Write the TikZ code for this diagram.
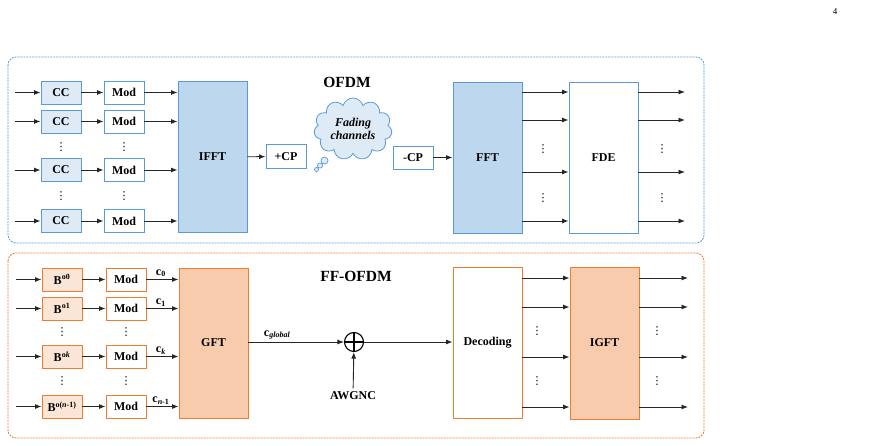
\documentclass[tikz,border=0pt]{standalone}
\usepackage{fontspec}
\setmainfont{Liberation Serif}
\newfontfamily\dotsfont{DejaVu Sans}
\usepackage{tikz}
\usetikzlibrary{positioning,arrows.meta,shapes.symbols}

\definecolor{ofdmfill}{HTML}{BDD7EE}
\definecolor{ofdmline}{HTML}{5B9BD5}
\definecolor{ccfill}{HTML}{DEEBF7}
\definecolor{fffill}{HTML}{F8CBAD}
\definecolor{ffline}{HTML}{ED7D31}
\definecolor{bfill}{HTML}{FBE5D6}

\begin{document}
\begin{tikzpicture}[x=1pt, y=-1pt, >={Latex[length=6.5pt,width=5pt]}, every node/.style={font=\fontsize{12}{14}\selectfont\bfseries},
    smallbox/.style={draw, line width=0.9pt, minimum width=40pt, minimum height=23pt, inner sep=0pt},
    bigbox/.style={draw, line width=0.9pt, minimum width=69pt, minimum height=151pt, inner sep=0pt},
    dotcol/.style={inner sep=0pt, font=\dotsfont\fontsize{11}{12}\selectfont},
    sig/.style={->, line width=0.9pt, draw=black!85}]
  \useasboundingbox (0,0) rectangle (874,446);
  \node[font=\small] (page) at (835,12) {4};

  % OFDM part
  \draw[ofdmline, line width=0.8pt, dash pattern=on 2pt off 1pt, rounded corners=8pt] (8,57) rectangle (704,243);
  \node[font=\fontsize{15.5}{18}\selectfont\bfseries] (ofdm) at (347,82) {OFDM};
  \node[bigbox, draw=ofdmline, fill=ofdmfill] (ifft) at (212.5,157) {IFFT};
  \foreach \i/\y in {1/92.5, 2/121.5, 3/170, 4/221} {
    \node[smallbox, draw=ofdmline, fill=ccfill] (cc\i) at (61,\y) {CC};
    \node[smallbox, draw=ofdmline, fill=white] (mod\i) at (124,\y) {Mod};
    \coordinate (in\i) at (15,\y);
    \draw[sig] (in\i) -- (cc\i);
    \draw[sig] (cc\i) -- (mod\i);
    \draw[sig] (mod\i.east) -- (mod\i.east -| ifft.west);
  }
  \foreach \y in {147, 196} {
    \node[dotcol] at (61,\y) {⋮};
    \node[dotcol] at (124,\y) {⋮};
  }
  \node[smallbox, draw=ofdmline, fill=white, minimum height=24pt] (addcp) at (286,156.5) {+CP};
  \draw[sig] (ifft) -- (addcp);
  \node[cloud, cloud puffs=11, aspect=1.3, draw=ofdmline, fill=ccfill, line width=0.8pt, minimum width=78pt, minimum height=62pt, inner sep=0pt, align=center, font=\fontsize{12}{13}\selectfont\bfseries\itshape] (channel) at (353,129) {Fading\\channels};
  \draw[ofdmline, fill=ccfill, line width=0.7pt] (324.5,160.5) circle (3.5) (320,165.5) circle (2.6) (316.5,169.5) circle (2);
  \node[smallbox, draw=ofdmline, fill=white] (remcp) at (413,157.5) {-CP};
  \node[bigbox, draw=ofdmline, fill=ofdmfill] (fft) at (487.5,157.5) {FFT};
  \node[bigbox, draw=ofdmline, fill=white] (fde) at (603.5,157.5) {FDE};
  \draw[sig] (remcp) -- (fft);
  \foreach \i/\y in {1/92, 2/120, 3/172, 4/221} {
    \coordinate (out\i) at (685,\y);
    \draw[sig] (fft.east |- out\i) -- (fde.west |- out\i);
    \draw[sig] (fde.east |- out\i) -- (out\i);
  }
  \foreach \y in {149, 198} {
    \node[dotcol] at (543,\y) {⋮};
    \node[dotcol] at (662,\y) {⋮};
  }

  % FF-OFDM part
  \draw[ffline, line width=0.8pt, dash pattern=on 2pt off 1pt, rounded corners=8pt] (8,253) rectangle (704,438);
  \node[font=\fontsize{15.5}{18}\selectfont\bfseries] (ffofdm) at (356,276) {FF-OFDM};
  \node[bigbox, draw=ffline, fill=fffill, minimum height=150pt] (gft) at (213.5,343) {GFT};
  \foreach \i/\y/\b/\c in {1/279.5/{o0}/0, 2/308.5/{o1}/1, 3/356.5/{o\textit{k}}/\textit{k}, 4/406.5/{o(\textit{n}-1)}/{\textit{n}-1}} {
    \node[smallbox, draw=ffline, fill=bfill] (b\i) at (62,\y) {B\textsuperscript{\b}};
    \node[smallbox, draw=ffline, fill=white] (fmod\i) at (126,\y) {Mod};
    \coordinate (fin\i) at (16,\y);
    \draw[sig] (fin\i) -- (b\i);
    \draw[sig] (b\i) -- (fmod\i);
    \draw[sig] (fmod\i.east) -- node[above, pos=0.45, inner sep=2pt] {c\textsubscript{\c}} (fmod\i.east -| gft.west);
  }
  \foreach \y in {332, 381} {
    \node[dotcol] at (62,\y) {⋮};
    \node[dotcol] at (126,\y) {⋮};
  }
  \node[circle, draw, line width=1.1pt, minimum size=19pt, inner sep=0pt,
    path picture={\draw[line width=1.1pt] (path picture bounding box.north) -- (path picture bounding box.south) (path picture bounding box.west) -- (path picture bounding box.east);}] (plus) at (354,342) {};
  \node (awgnc) at (353,396) {AWGNC};
  \draw[sig] (gft.east |- plus) -- node[above, pos=0.3, inner sep=2pt] {c\textsubscript{\textit{global}}} (plus);
  \draw[sig] (awgnc) -- (plus);
  \node[bigbox, draw=ffline, fill=white] (decoding) at (487.5,342.5) {Decoding};
  \node[bigbox, draw=ffline, fill=fffill, minimum height=152pt] (igft) at (604.5,343) {IGFT};
  \draw[sig] (plus) -- (plus -| decoding.west);
  \foreach \i/\y in {1/278, 2/307, 3/357, 4/407} {
    \coordinate (fout\i) at (688,\y);
    \draw[sig] (decoding.east |- fout\i) -- (igft.west |- fout\i);
    \draw[sig] (igft.east |- fout\i) -- (fout\i);
  }
  \foreach \y in {331, 381} {
    \node[dotcol] at (537,\y) {⋮};
    \node[dotcol] at (657,\y) {⋮};
  }
\end{tikzpicture}
\end{document}
